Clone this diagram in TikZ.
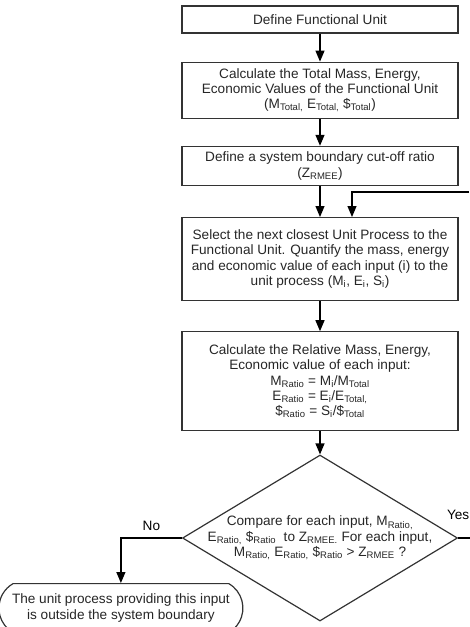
\documentclass[tikz,border=0pt]{standalone}
\usepackage{fontspec}
\setmainfont{Liberation Sans}
\usetikzlibrary{shapes.geometric, shapes.misc, arrows.meta, positioning}

\begin{document}
\begin{tikzpicture}[
        >={Triangle[length=11pt, width=9pt]},
        font=\fontsize{13.6}{15.3}\selectfont,
        node distance=28pt,
        % Define Styles
        stepbox/.style={rectangle, draw=black!80, line width=1.2pt, minimum width=276pt, align=center, inner sep=3pt, text=black!85},
        decision/.style={diamond, draw=black!80, line width=1.2pt, minimum width=275pt, minimum height=166pt, inner sep=0pt},
        terminal/.style={rounded rectangle, rounded rectangle arc length=120, draw=black!80, line width=1.2pt, minimum width=228pt, minimum height=49pt, align=center, inner xsep=-8pt, inner ysep=2pt, text=black!85},
        arrow/.style={->, line width=1.2pt, draw=black}
    ]

    \useasboundingbox (0pt,0pt) rectangle (469pt,-627pt);

    % --- MAIN STEPS (top to bottom) ---
    \node[stepbox, minimum height=27pt] (unit) at (320pt,-19.5pt) {Define Functional Unit};

    \node[stepbox, minimum height=56pt, below=28pt of unit] (totals) {Calculate the Total Mass, Energy,\\ Economic Values of the Functional Unit\\ (M\textsubscript{Total,} E\textsubscript{Total,} \$\textsubscript{Total})};

    \node[stepbox, minimum height=39pt, below=27pt of totals] (cutoff) {Define a system boundary cut-off ratio\\ (Z\textsubscript{RMEE})};

    \node[stepbox, minimum height=83pt, below=31pt of cutoff] (select) {Select the next closest Unit Process to the\\ Functional Unit. Quantify the mass, energy\\ and economic value of each input (i) to the\\ unit process (M\textsubscript{i}, E\textsubscript{i}, S\textsubscript{i})};

    \node[stepbox, minimum height=99pt, below=30pt of select] (relative) {Calculate the Relative Mass, Energy,\\ Economic value of each input:\\ M\textsubscript{Ratio} = M\textsubscript{i}/M\textsubscript{Total}\\ E\textsubscript{Ratio} = E\textsubscript{i}/E\textsubscript{Total,}\\ \$\textsubscript{Ratio} = S\textsubscript{i}/\$\textsubscript{Total}};

    % --- DECISION ---
    \node[decision, below=23pt of relative] (compare) {};
    \node[align=center, text=black!85] (comparetext) at (compare) {Compare for each input, M\textsubscript{Ratio,}\\ E\textsubscript{Ratio,} \$\textsubscript{Ratio}\ \ to Z\textsubscript{RMEE.} For each input,\\ M\textsubscript{Ratio,} E\textsubscript{Ratio,} \$\textsubscript{Ratio} > Z\textsubscript{RMEE} ?};

    \node[terminal, below=45pt of compare.west, xshift=-61pt] (outside) {The unit process providing this input\\ is outside the system boundary};

    % --- FLOW ---
    \draw[arrow] (unit) -- (totals);
    \draw[arrow] (totals) -- (cutoff);
    \draw[arrow] (cutoff) -- (select);
    \draw[arrow] (select) -- (relative);
    \draw[arrow] (relative) -- (compare);

    % loop back from the Yes branch
    \coordinate (loopin) at (469pt,-192pt);
    \coordinate[xshift=32pt] (loopdrop) at (select.north);
    \draw[arrow] (loopin) -| (loopdrop);

    \draw[arrow] (compare.west) -| node[pos=0.25, above=3pt] {No} (outside.north);

    \coordinate[xshift=12pt] (yesout) at (compare.east);
    \draw[line width=1.2pt] (compare.east) -- node[pos=0, above=14pt] {Yes} (yesout);

\end{tikzpicture}
\end{document}
